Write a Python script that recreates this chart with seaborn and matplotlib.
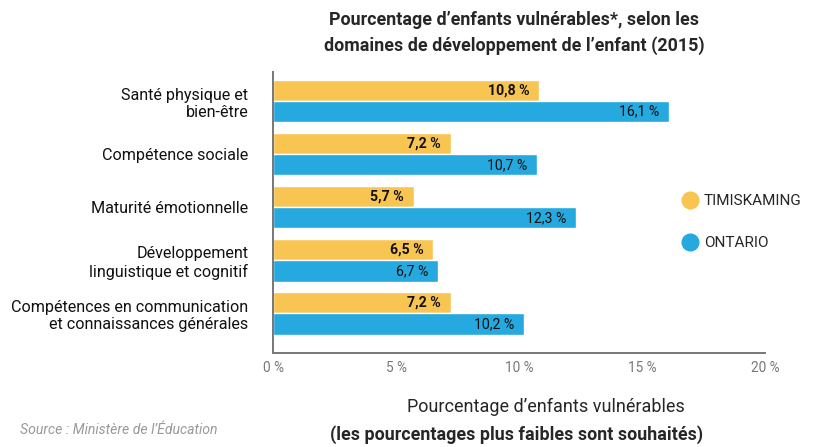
import matplotlib
matplotlib.use("Agg")
import matplotlib.pyplot as plt
from matplotlib.lines import Line2D
import seaborn as sns
import pandas as pd

domaines = [
    "Santé physique et\nbien-être",
    "Compétence sociale",
    "Maturité émotionnelle",
    "Développement\nlinguistique et cognitif",
    "Compétences en communication\net connaissances générales",
]
timiskaming = [10.8, 7.2, 5.7, 6.5, 7.2]
ontario = [16.1, 10.7, 12.3, 6.7, 10.2]
regions = ["TIMISKAMING", "ONTARIO"]
couleurs = ["#F8C552", "#25A9DF"]
ticks_x = [0, 5, 10, 15, 20]

df = pd.DataFrame({
    "domaine": domaines * 2,
    "region": [regions[0]] * len(domaines) + [regions[1]] * len(domaines),
    "valeur": timiskaming + ontario,
})

sns.set_style("white")
plt.rcParams["font.family"] = ["Roboto", "DejaVu Sans"]

fig = plt.figure(figsize=(8.23, 4.47), dpi=100)
ax = fig.add_axes([0.3323, 0.21, 0.5977, 0.629])

sns.barplot(data=df, y="domaine", x="valeur", hue="region", orient="h",
            palette=couleurs, width=0.8, saturation=1, ax=ax, legend=False)

# value labels inside the bar ends
for i, cont in enumerate(ax.containers):
    for rect, v in zip(cont, [timiskaming, ontario][i]):
        ax.annotate(f"{v:.1f} %".replace(".", ","),
                    (rect.get_width(), rect.get_y() + rect.get_height() / 2),
                    xytext=(-7, 0), textcoords="offset points",
                    ha="right", va="center", fontsize=10.2,
                    fontweight="bold" if i == 0 else "normal", color="#111111")

ax.set_xlim(0, 20)
ax.set_ylim(4.75, -0.55)
ax.set_xticks(ticks_x)
ax.set_xticklabels([f"{t} %" for t in ticks_x], color="#777777", fontsize=9.8)
ax.tick_params(axis="x", direction="in", length=5, color="#666666", width=1.2, pad=6)
ax.tick_params(axis="y", length=0, pad=18, labelsize=11.6, labelcolor="#111111")
ax.set_ylabel("")
ax.set_xlabel("")
for s in ["top", "right"]:
    ax.spines[s].set_visible(False)
for s in ["left", "bottom"]:
    ax.spines[s].set_color("#777777")
    ax.spines[s].set_linewidth(1.4)

handles = [Line2D([], [], marker="o", linestyle="", markersize=12,
                  markerfacecolor=c, markeredgecolor=c) for c in couleurs]
fig.legend(handles, regions, loc="center left", bbox_to_anchor=(0.81, 0.503),
           frameon=False, fontsize=11, labelspacing=1.85, handletextpad=0.35,
           handlelength=1.2)

fig.text(0.625, 0.975, "Pourcentage d’enfants vulnérables*, selon les\ndomaines de développement de l’enfant (2015)",
         ha="center", va="top", fontsize=12.9, fontweight="bold", linespacing=1.5)
fig.text(0.663, 0.09, "Pourcentage d’enfants vulnérables", ha="center", va="center", fontsize=13)
fig.text(0.628, 0.027, "(les pourcentages plus faibles sont souhaités)", ha="center", va="center",
         fontsize=12.9, fontweight="bold")
fig.text(0.024, 0.038, "Source : Ministère de l’Éducation", ha="left", va="center",
         fontsize=10.1, style="italic", color="#999999")

fig.savefig("out.png", dpi=100)
